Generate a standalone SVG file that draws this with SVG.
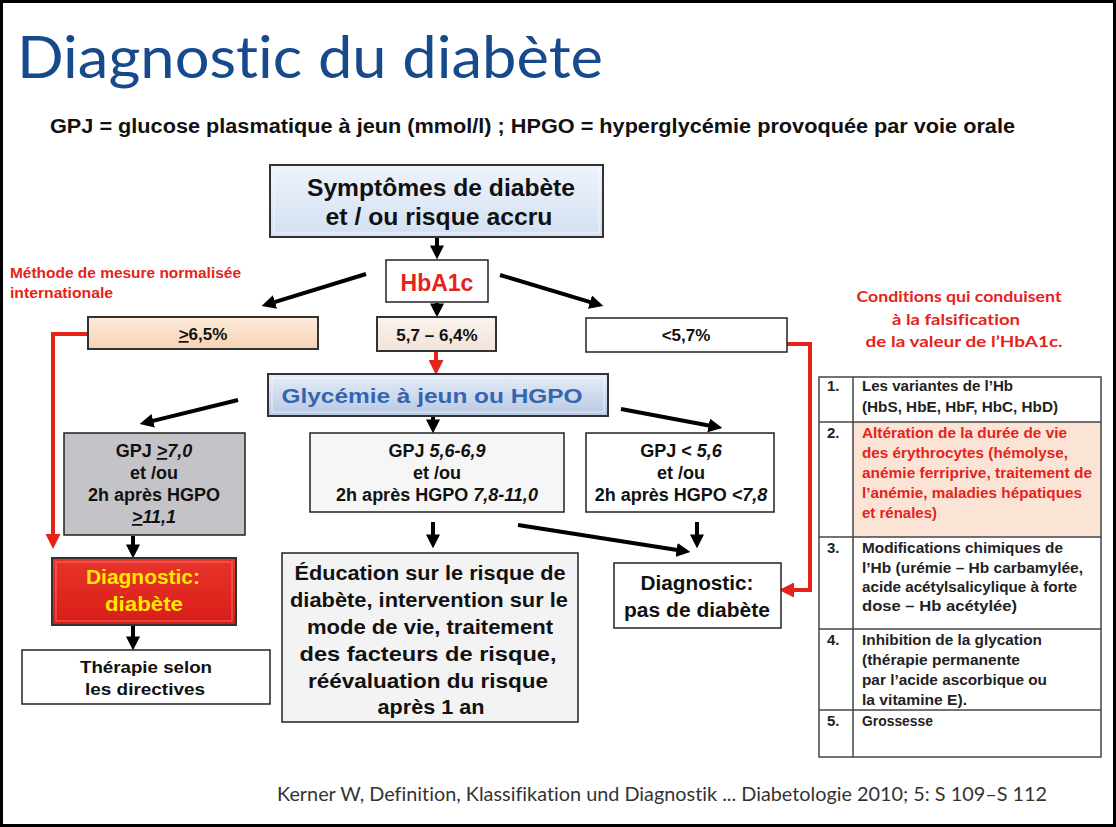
<svg xmlns="http://www.w3.org/2000/svg" width="1116" height="827" viewBox="0 0 1116 827">
<defs>
<style>
.b{font-family:"Liberation Sans",Arial,sans-serif;font-weight:bold;fill:#111;}
.c{text-anchor:middle;}
.box{stroke:#222;stroke-width:1.5;}
.bev{stroke:#333;stroke-width:2;}
.conn{stroke:#000;stroke-width:4;fill:none;}
.red{stroke:#e5231b;stroke-width:4;fill:none;}
.t{font-family:"Liberation Sans",Arial,sans-serif;font-weight:bold;font-size:15px;fill:#222;}
.tr{fill:#e5231b;}
.cal{font-family:Lato,"Open Sans",sans-serif;font-variant-ligatures:none;}
</style>
<linearGradient id="gBlue" x1="0" y1="0" x2="0" y2="1"><stop offset="0" stop-color="#eef3fb"/><stop offset="1" stop-color="#d3e0f2"/></linearGradient>
<linearGradient id="gGly" x1="0" y1="0" x2="0" y2="1"><stop offset="0" stop-color="#e6edf8"/><stop offset="1" stop-color="#b7c8e2"/></linearGradient>
<linearGradient id="gPeach" x1="0" y1="0" x2="0" y2="1"><stop offset="0" stop-color="#fdebdc"/><stop offset="1" stop-color="#f7d3b4"/></linearGradient>
<linearGradient id="gPeach2" x1="0" y1="0" x2="0" y2="1"><stop offset="0" stop-color="#fbf3ee"/><stop offset="1" stop-color="#f1e3da"/></linearGradient>
<linearGradient id="gRed" x1="0" y1="0" x2="0" y2="1"><stop offset="0" stop-color="#e8342b"/><stop offset="1" stop-color="#d81d18"/></linearGradient>
<marker id="ah" viewBox="0 0 10 10" refX="4" refY="5" markerWidth="14" markerHeight="14" markerUnits="userSpaceOnUse" orient="auto"><path d="M0,0 L10,5 L0,10 z" fill="#000"/></marker>
<marker id="ahr" viewBox="0 0 10 10" refX="4" refY="5" markerWidth="15" markerHeight="15" markerUnits="userSpaceOnUse" orient="auto"><path d="M0,0 L10,5 L0,10 z" fill="#e5231b"/></marker>
</defs>
<rect x="0" y="0" width="1116" height="827" fill="#fff"/>
<rect x="1.5" y="1.5" width="1113" height="824" fill="none" stroke="#000" stroke-width="3"/>

<g id="header">
<text class="cal" x="17" y="78" font-size="58" fill="#174a8c" textLength="586" lengthAdjust="spacingAndGlyphs">Diagnostic du diabète</text>
<text class="b" x="50" y="133" font-size="20" textLength="965" lengthAdjust="spacingAndGlyphs">GPJ = glucose plasmatique à jeun (mmol/l) ; HPGO = hyperglycémie provoquée par voie orale</text>
</g>

<g id="connectors">
<line class="conn" x1="437" y1="238" x2="437" y2="251" marker-end="url(#ah)"/>
<line class="conn" x1="366" y1="274" x2="269.6" y2="303.6" marker-end="url(#ah)"/>
<line class="conn" x1="500" y1="275" x2="595.3" y2="303.7" marker-end="url(#ah)"/>
<line class="conn" x1="437" y1="303" x2="437" y2="309" marker-end="url(#ah)"/>
<line class="red" x1="436" y1="352" x2="436" y2="366" marker-end="url(#ahr)"/>
<line class="conn" x1="238" y1="400" x2="147.8" y2="422.1" marker-end="url(#ah)"/>
<line class="conn" x1="433" y1="417" x2="433" y2="425" marker-end="url(#ah)"/>
<line class="conn" x1="621" y1="409" x2="714.1" y2="426.5" marker-end="url(#ah)"/>
<line class="conn" x1="133" y1="536" x2="133" y2="550" marker-end="url(#ah)"/>
<line class="conn" x1="433" y1="522" x2="433" y2="540" marker-end="url(#ah)"/>
<line class="conn" x1="697" y1="522" x2="697" y2="540" marker-end="url(#ah)"/>
<line class="conn" stroke-width="3" x1="518" y1="525" x2="682.1" y2="550.8" marker-end="url(#ah)"/>
<line class="conn" x1="133" y1="626" x2="133" y2="642" marker-end="url(#ah)"/>
<path class="red" d="M88,334 H53 V540" marker-end="url(#ahr)"/>
<path class="red" d="M787,344 H810 V590 H788" marker-end="url(#ahr)"/>
</g>

<g id="symptomes">
<rect class="bev" x="270" y="165" width="333" height="72" fill="url(#gBlue)"/>
<rect x="274" y="169" width="325" height="64" fill="none" stroke="#fff" stroke-opacity="0.6" stroke-width="1"/>
<text class="b c" x="441" y="196" font-size="24" textLength="268" lengthAdjust="spacingAndGlyphs">Symptômes de diabète</text>
<text class="b c" x="439" y="225" font-size="24" textLength="227" lengthAdjust="spacingAndGlyphs">et / ou risque accru</text>
</g>

<g id="hba1c">
<rect class="box" x="386" y="260" width="102" height="42" fill="#fff"/>
<text class="b c" x="437" y="291" font-size="23" style="fill:#e5231b">HbA1c</text>
</g>

<g id="methode">
<text class="b" x="10" y="278" font-size="14" style="fill:#e5231b" textLength="231" lengthAdjust="spacingAndGlyphs">Méthode de mesure normalisée</text>
<text class="b" x="10" y="298" font-size="14" style="fill:#e5231b" textLength="103" lengthAdjust="spacingAndGlyphs">internationale</text>
</g>

<g id="p65">
<rect class="bev" x="88" y="317" width="230" height="32" fill="url(#gPeach)"/>
<text class="b c" x="203" y="340" font-size="17"><tspan text-decoration="underline">&gt;</tspan>6,5%</text>
</g>

<g id="p57">
<rect class="bev" x="377" y="317" width="119" height="34" fill="url(#gPeach2)"/>
<text class="b c" x="437" y="341" font-size="17">5,7 – 6,4%</text>
</g>

<g id="plt57">
<rect class="box" x="586" y="318" width="201" height="34" fill="#fff"/>
<text class="b c" x="686" y="341" font-size="17">&lt;5,7%</text>
</g>

<g id="conditions">
<text class="cal c" x="959" y="302" font-size="15.5" font-weight="bold" fill="#e5231b" textLength="205" lengthAdjust="spacingAndGlyphs">Conditions qui conduisent</text>
<text class="cal c" x="956" y="325" font-size="15.5" font-weight="bold" fill="#e5231b" textLength="128" lengthAdjust="spacingAndGlyphs">à la falsification</text>
<text class="cal c" x="964" y="347" font-size="15.5" font-weight="bold" fill="#e5231b" textLength="197" lengthAdjust="spacingAndGlyphs">de la valeur de l’HbA1c.</text>
</g>

<g id="glycemie">
<rect class="bev" x="268" y="374" width="340" height="42" fill="url(#gGly)"/>
<rect x="272" y="378" width="332" height="34" fill="none" stroke="#fff" stroke-opacity="0.6" stroke-width="1"/>
<text class="b c" x="432" y="403" font-size="21" style="fill:#3466b0" textLength="301" lengthAdjust="spacingAndGlyphs">Glycémie  à jeun ou HGPO</text>
</g>

<g id="gpj-high">
<rect class="box" x="64" y="433" width="181" height="102" fill="#c4c4c8"/>
<text class="b c" x="154" y="457" font-size="18">GPJ <tspan font-style="italic"><tspan text-decoration="underline">&gt;</tspan>7,0</tspan></text>
<text class="b c" x="154" y="479" font-size="18">et /ou</text>
<text class="b c" x="154" y="501" font-size="18">2h après HGPO</text>
<text class="b c" x="154" y="523" font-size="18" font-style="italic"><tspan text-decoration="underline">&gt;</tspan>11,1</text>
</g>

<g id="gpj-mid">
<rect class="box" x="310" y="433" width="254" height="79" fill="#f6f6f6"/>
<text class="b c" x="437" y="457" font-size="18">GPJ <tspan font-style="italic">5,6-6,9</tspan></text>
<text class="b c" x="437" y="479" font-size="18">et /ou</text>
<text class="b c" x="437" y="501" font-size="18">2h après HGPO <tspan font-style="italic">7,8-11,0</tspan></text>
</g>

<g id="gpj-low">
<rect class="box" x="586" y="433" width="188" height="79" fill="#fff"/>
<text class="b c" x="681" y="457" font-size="18">GPJ &lt; <tspan font-style="italic">5,6</tspan></text>
<text class="b c" x="681" y="479" font-size="18">et /ou</text>
<text class="b c" x="681" y="501" font-size="18">2h après HGPO <tspan font-style="italic">&lt;7,8</tspan></text>
</g>

<g id="diag-diabete">
<rect class="bev" x="52" y="558" width="184" height="67" fill="url(#gRed)"/>
<rect x="56" y="562" width="176" height="59" fill="none" stroke="#f7a19b" stroke-opacity="0.6" stroke-width="1"/>
<text class="b c" x="143" y="584" font-size="20" style="fill:#ffe800" textLength="114" lengthAdjust="spacingAndGlyphs">Diagnostic:</text>
<text class="b c" x="144" y="611" font-size="20" style="fill:#ffe800" textLength="78" lengthAdjust="spacingAndGlyphs">diabète</text>
</g>

<g id="therapie">
<rect class="box" x="22" y="650" width="248" height="54" fill="#fff"/>
<text class="b c" x="146" y="673" font-size="17" textLength="132" lengthAdjust="spacingAndGlyphs">Thérapie selon</text>
<text class="b c" x="145" y="695" font-size="17" textLength="120" lengthAdjust="spacingAndGlyphs">les directives</text>
</g>

<g id="education">
<rect class="box" x="282" y="553" width="296" height="169" fill="#f3f3f3"/>
<text class="b c" x="430" y="580" font-size="21" textLength="271" lengthAdjust="spacingAndGlyphs">Éducation sur le risque de</text>
<text class="b c" x="429" y="607" font-size="21" textLength="278" lengthAdjust="spacingAndGlyphs">diabète, intervention sur le</text>
<text class="b c" x="430" y="634" font-size="21" textLength="246" lengthAdjust="spacingAndGlyphs">mode de vie, traitement</text>
<text class="b c" x="428" y="661" font-size="21" textLength="257" lengthAdjust="spacingAndGlyphs">des facteurs de risque,</text>
<text class="b c" x="428" y="688" font-size="21" textLength="240" lengthAdjust="spacingAndGlyphs">réévaluation du risque</text>
<text class="b c" x="431" y="714" font-size="21" textLength="107" lengthAdjust="spacingAndGlyphs">après 1 an</text>
</g>

<g id="diag-pas">
<rect class="box" x="614" y="563" width="167" height="65" fill="#fff"/>
<text class="b c" x="697" y="590" font-size="20" textLength="113" lengthAdjust="spacingAndGlyphs">Diagnostic:</text>
<text class="b c" x="697" y="617" font-size="20" textLength="146" lengthAdjust="spacingAndGlyphs">pas de diabète</text>
</g>

<g id="table">
<rect x="853" y="422" width="248" height="115" fill="#fbe4d5"/>
<rect x="819" y="377" width="282" height="380" fill="none" stroke="#444" stroke-width="1.5"/>
<line x1="853" y1="377" x2="853" y2="757" stroke="#444" stroke-width="1.5"/>
<line x1="819" y1="422" x2="1101" y2="422" stroke="#444" stroke-width="1.5"/>
<line x1="819" y1="537" x2="1101" y2="537" stroke="#444" stroke-width="1.5"/>
<line x1="819" y1="629" x2="1101" y2="629" stroke="#444" stroke-width="1.5"/>
<line x1="819" y1="710" x2="1101" y2="710" stroke="#444" stroke-width="1.5"/>
<text class="t" x="827" y="391">1.</text>
<text class="t" x="862" y="391" textLength="151" lengthAdjust="spacingAndGlyphs">Les variantes de l’Hb</text>
<text class="t" x="862" y="412" textLength="196" lengthAdjust="spacingAndGlyphs">(HbS, HbE, HbF, HbC, HbD)</text>
<text class="t" x="827" y="438">2.</text>
<text class="t tr" x="862" y="438" textLength="205" lengthAdjust="spacingAndGlyphs">Altération de la durée de vie</text>
<text class="t tr" x="862" y="458" textLength="206" lengthAdjust="spacingAndGlyphs">des érythrocytes  (hémolyse,</text>
<text class="t tr" x="862" y="478" textLength="230" lengthAdjust="spacingAndGlyphs">anémie ferriprive, traitement de</text>
<text class="t tr" x="862" y="498" textLength="220" lengthAdjust="spacingAndGlyphs">l’anémie, maladies hépatiques</text>
<text class="t tr" x="862" y="518" textLength="75" lengthAdjust="spacingAndGlyphs">et rénales)</text>
<text class="t" x="827" y="553">3.</text>
<text class="t" x="862" y="553" textLength="201" lengthAdjust="spacingAndGlyphs">Modifications chimiques de</text>
<text class="t" x="862" y="573" textLength="221" lengthAdjust="spacingAndGlyphs">l’Hb (urémie – Hb carbamylée,</text>
<text class="t" x="862" y="592" textLength="215" lengthAdjust="spacingAndGlyphs">acide acétylsalicylique à forte</text>
<text class="t" x="862" y="611" textLength="155" lengthAdjust="spacingAndGlyphs">dose  – Hb acétylée)</text>
<text class="t" x="827" y="645">4.</text>
<text class="t" x="862" y="645" textLength="180" lengthAdjust="spacingAndGlyphs">Inhibition de la glycation</text>
<text class="t" x="862" y="665" textLength="158" lengthAdjust="spacingAndGlyphs">(thérapie permanente</text>
<text class="t" x="862" y="685" textLength="185" lengthAdjust="spacingAndGlyphs">par l’acide ascorbique ou</text>
<text class="t" x="862" y="705" textLength="105" lengthAdjust="spacingAndGlyphs">la vitamine E).</text>
<text class="t" x="827" y="726">5.</text>
<text class="t" x="862" y="726" textLength="71" lengthAdjust="spacingAndGlyphs">Grossesse</text>
</g>

<g id="footer">
<text class="cal" x="277" y="801" font-size="19" fill="#333" textLength="770" lengthAdjust="spacingAndGlyphs">Kerner W,  Definition, Klassifikation und Diagnostik ... Diabetologie 2010; 5: S 109–S 112</text>
</g>
</svg>
